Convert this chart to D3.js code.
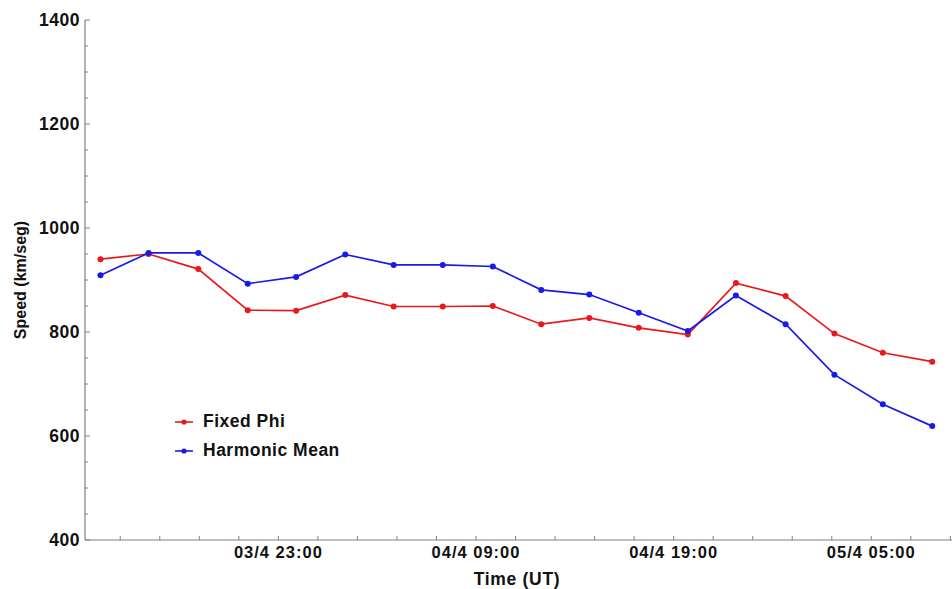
<!DOCTYPE html>
<html>
<head>
<meta charset="utf-8">
<script src="https://cdn.jsdelivr.net/npm/d3@7"></script>
<style>
  html, body { margin: 0; padding: 0; background: #fff; }
  svg text { font-family: "Liberation Sans", Arial, sans-serif; font-weight: bold; fill: #111; }
</style>
</head>
<body>
<svg id="chart" width="952" height="589"></svg>
<script>
// Observation times (UT) and speeds from the two methods
const times = [
  "2015-04-03T14:00", "2015-04-03T16:26", "2015-04-03T18:57", "2015-04-03T21:27",
  "2015-04-03T23:54", "2015-04-04T02:23", "2015-04-04T04:50", "2015-04-04T07:19",
  "2015-04-04T09:51", "2015-04-04T12:18", "2015-04-04T14:44", "2015-04-04T17:14",
  "2015-04-04T19:43", "2015-04-04T22:09", "2015-04-05T00:40", "2015-04-05T03:08",
  "2015-04-05T05:35", "2015-04-05T08:05"
];
const fixedPhi = [940, 950, 921, 842, 841, 871, 849, 849, 850, 815, 827, 808, 795, 894, 869, 797, 760, 743];
const harmonicMean = [909, 952, 952, 893, 906, 949, 929, 929, 926, 881, 872, 837, 802, 870, 815, 718, 661, 619];

const seriesNames = ["Fixed Phi", "Harmonic Mean"];
const seriesColors = ["#e8191c", "#1a1ae6"];

const yTicks = [400, 600, 800, 1000, 1200, 1400];
const xLabelTimes = ["2015-04-03T23:00", "2015-04-04T09:00", "2015-04-04T19:00", "2015-04-05T05:00"];
const xDomain = ["2015-04-03T13:13", "2015-04-05T09:05"];

const parse = d3.utcParse("%Y-%m-%dT%H:%M");
const fmt = d3.utcFormat("%d/%-m %H:%M");

const svg = d3.select("#chart");
const margin = { left: 85, top: 20, right: 0, bottom: 49 };
const W = 952, H = 589;

const x = d3.scaleUtc()
  .domain(xDomain.map(parse))
  .range([margin.left, W - margin.right]);
const y = d3.scaleLinear()
  .domain([400, 1400])
  .range([H - margin.bottom, margin.top]);

const axisColor = "#808080";

// X axis: minor ticks every 2 h (odd hours), labels every 10 h
const minorX = d3.utcHour.range(x.domain()[0], x.domain()[1]).filter(d => d.getUTCHours() % 2 === 1);
const gx = svg.append("g").attr("transform", `translate(0,${y(400)})`);
gx.append("line").attr("x1", margin.left).attr("x2", W).attr("stroke", axisColor).attr("stroke-width", 1.2);
gx.selectAll("line.tick").data(minorX).join("line")
  .attr("class", "tick")
  .attr("x1", d => x(d)).attr("x2", d => x(d))
  .attr("y1", 0).attr("y2", -4)
  .attr("stroke", axisColor).attr("stroke-width", 1);
gx.selectAll("text").data(xLabelTimes.map(parse)).join("text")
  .attr("x", d => x(d)).attr("y", 18)
  .attr("text-anchor", "middle")
  .style("font-size", "16.5px")
  .style("letter-spacing", "1px")
  .text(d => fmt(d));

// Y axis: major ticks every 200, minor every 50
const minorY = d3.range(400, 1401, 50);
const gy = svg.append("g").attr("transform", `translate(${margin.left},0)`);
gy.append("line").attr("y1", y(1400)).attr("y2", y(400)).attr("stroke", axisColor).attr("stroke-width", 1.2);
gy.selectAll("line.tick").data(minorY).join("line")
  .attr("class", "tick")
  .attr("y1", d => y(d)).attr("y2", d => y(d))
  .attr("x1", 0).attr("x2", d => (d % 200 === 0 ? 5 : 3))
  .attr("stroke", axisColor).attr("stroke-width", 1);
gy.selectAll("text").data(yTicks).join("text")
  .attr("x", -5).attr("y", d => y(d)).attr("dy", "0.36em")
  .attr("text-anchor", "end")
  .style("font-size", "17.5px")
  .style("letter-spacing", "0.5px")
  .text(d => d);

// Axis titles
svg.append("text")
  .attr("x", 517).attr("y", 585)
  .attr("text-anchor", "middle")
  .style("font-size", "17.5px")
  .style("letter-spacing", "0.7px")
  .text("Time (UT)");
svg.append("text")
  .attr("transform", `translate(26,280) rotate(-90)`)
  .attr("text-anchor", "middle")
  .style("font-size", "16px")
  .text("Speed (km/seg)");

// Series
const series = [fixedPhi, harmonicMean].map((vals, i) => ({
  name: seriesNames[i],
  color: seriesColors[i],
  points: vals.map((v, j) => ({ t: parse(times[j]), v }))
}));

const line = d3.line().x(d => x(d.t)).y(d => y(d.v));

series.forEach(s => {
  const g = svg.append("g");
  g.append("path").datum(s.points)
    .attr("d", line)
    .attr("fill", "none")
    .attr("stroke", s.color)
    .attr("stroke-width", 1.7);
  g.selectAll("circle").data(s.points).join("circle")
    .attr("cx", d => x(d.t)).attr("cy", d => y(d.v))
    .attr("r", 3)
    .attr("fill", s.color);
});

// Legend
const legend = svg.append("g").attr("transform", "translate(175,422)");
series.forEach((s, i) => {
  const row = legend.append("g").attr("transform", `translate(0,${i * 29})`);
  row.append("line").attr("x1", 0).attr("x2", 18)
    .attr("stroke", s.color).attr("stroke-width", 1.6);
  row.append("circle").attr("cx", 9).attr("cy", 0).attr("r", 2.6).attr("fill", s.color);
  row.append("text").attr("x", 28).attr("y", 0).attr("dy", "0.3em")
    .style("font-size", "17.5px")
    .style("letter-spacing", "0.5px")
    .text(s.name);
});
</script>
</body>
</html>
